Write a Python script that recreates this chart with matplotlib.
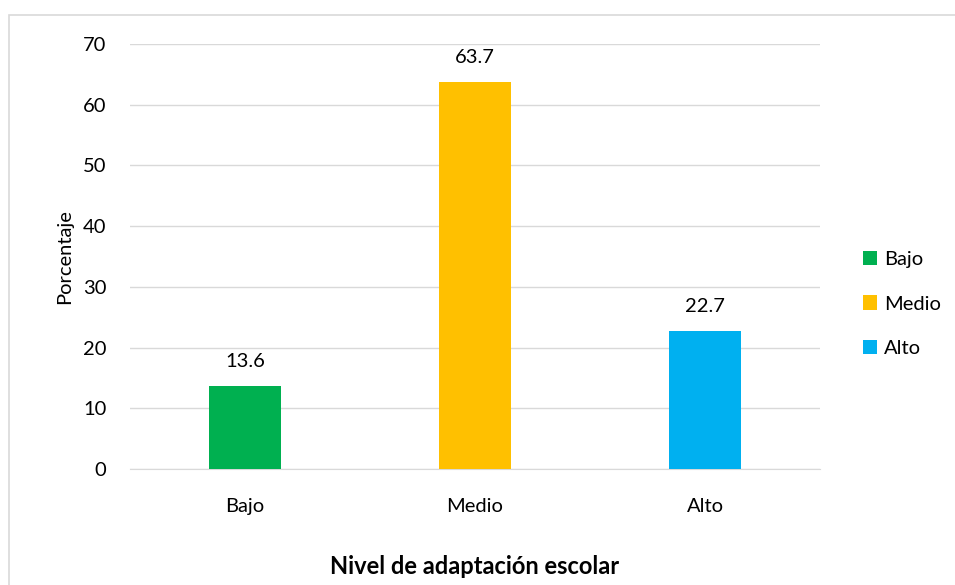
import matplotlib
matplotlib.use("Agg")
import matplotlib.pyplot as plt
from matplotlib.patches import Rectangle, Patch

categories = ["Bajo", "Medio", "Alto"]
values = [13.6, 63.7, 22.7]
colors = ["#00B050", "#FFC000", "#00B0F0"]
yticks = [0, 10, 20, 30, 40, 50, 60, 70]

plt.rcParams['font.family'] = ['Lato', 'DejaVu Sans']

W, H = 955, 585
fig = plt.figure(figsize=(W / 100, H / 100), dpi=100)

# chart border
fig.patches.append(Rectangle((9 / W, -0.1), 2, (H - 15) / H + 0.1, transform=fig.transFigure,
                             fill=False, edgecolor="#D9D9D9", linewidth=1.2))

ax = fig.add_axes([130 / W, 1 - 469 / H, 690 / W, (469 - 44) / H])
x = list(range(len(categories)))
ax.bar(x, values, width=0.315, color=colors, zorder=3)
ax.set_xlim(-0.5, 2.5)
ax.set_ylim(0, 70)
ax.set_yticks(yticks)
ax.set_xticks(x)
ax.set_xticklabels(categories)
ax.grid(axis="y", color="#D9D9D9", linewidth=1, zorder=0)
for s in ["top", "right", "left"]:
    ax.spines[s].set_visible(False)
ax.spines["bottom"].set_color("#D9D9D9")
ax.tick_params(axis="both", length=0, labelsize=14.5, colors="#000000")
ax.tick_params(axis="x", pad=21)
ax.tick_params(axis="y", pad=17)

for xi, v in zip(x, values):
    ax.annotate(f"{v}", (xi, v), xytext=(0, 12), textcoords="offset points",
                ha="center", va="bottom", fontsize=14.5)

ax.set_ylabel("Porcentaje", fontsize=14.5, labelpad=7)
fig.text(475 / W, 1 - 566 / H, "Nivel de adaptación escolar", ha="center", va="center",
         fontsize=17, fontweight="bold")

handles = [Patch(facecolor=c, label=l) for c, l in zip(colors, categories)]
fig.legend(handles=handles, loc="center left", bbox_to_anchor=(853 / W, 1 - 304 / H),
           frameon=False, fontsize=14.5, handlelength=0.7, handleheight=0.7,
           handletextpad=0.35, labelspacing=1.35, borderpad=0)

fig.savefig("out.png", dpi=100)
